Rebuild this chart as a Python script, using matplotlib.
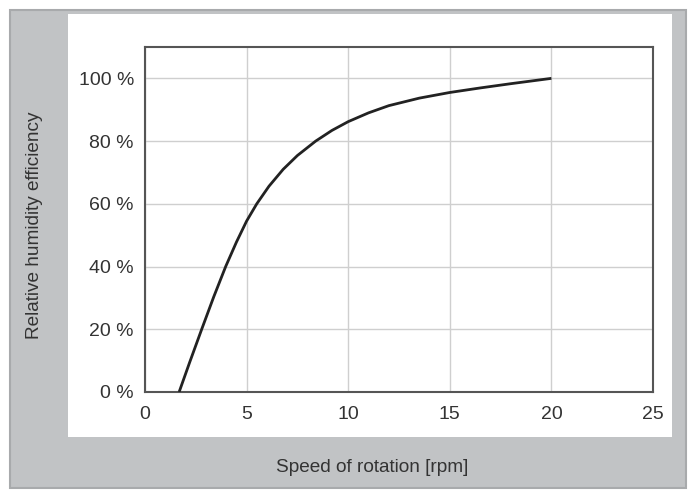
import matplotlib
matplotlib.use("Agg")
import matplotlib.pyplot as plt
from matplotlib.patches import Rectangle

# Data
speed_rpm = [1.68, 2.2, 2.79, 3.38, 3.97, 4.5, 5.0, 5.5, 6.1, 6.8, 7.5, 8.4,
             9.2, 10.0, 11.0, 12.0, 13.5, 15.0, 16.5, 18.0, 20.0]
efficiency_pct = [0, 9.5, 20, 30.3, 40, 47.8, 54.5, 60, 65.6, 71, 75.4, 80,
                  83.4, 86.2, 89, 91.3, 93.7, 95.5, 96.95, 98.3, 100]
x_ticks = [0, 5, 10, 15, 20, 25]
y_ticks = [0, 20, 40, 60, 80, 100]
y_tick_labels = ["0 %", "20 %", "40 %", "60 %", "80 %", "100 %"]

W, H = 693, 491
fig = plt.figure(figsize=(W / 100, H / 100), dpi=100)
fig.patch.set_facecolor("white")

def px_rect(x0, y0, x1, y1, **kw):
    fig.patches.append(Rectangle((x0 / W, 1 - y1 / H), (x1 - x0) / W, (y1 - y0) / H,
                                 transform=fig.transFigure, figure=fig,
                                 zorder=-10, **kw))

# outer gray frame and white panel
px_rect(10, 10, 686, 488, facecolor="#c1c3c5", edgecolor="#a8aaac", linewidth=1.5)
px_rect(68, 14, 672, 437, facecolor="white", edgecolor="none")

ax = fig.add_axes([145 / W, 1 - 392 / H, (653 - 145) / W, (392 - 47) / H])
ax.set_facecolor("none")
ax.plot(speed_rpm, efficiency_pct, color="#222222", linewidth=2.0,
        solid_capstyle="butt", solid_joinstyle="round", zorder=3)

ax.set_xlim(0, 25)
ax.set_ylim(0, 110)
ax.set_xticks(x_ticks)
ax.set_yticks(y_ticks)
ax.set_yticklabels(y_tick_labels)
ax.grid(True, color="#cfcfcf", linewidth=1.0)
ax.set_axisbelow(True)
for s in ax.spines.values():
    s.set_color("#555555")
    s.set_linewidth(1.5)
ax.tick_params(length=0, labelsize=14, labelcolor="#333333")
ax.tick_params(axis="x", pad=10)
ax.tick_params(axis="y", pad=8)
for lbl in ax.get_xticklabels() + ax.get_yticklabels():
    lbl.set_fontfamily("Liberation Sans")

fig.text(35 / W, 1 - 225 / H, "Relative humidity efficiency", rotation=90,
         ha="center", va="center", fontsize=13.7, color="#333333",
         fontfamily="Liberation Sans")
fig.text(372 / W, 1 - 467 / H, "Speed of rotation [rpm]", ha="center",
         va="center", fontsize=13.7, color="#333333", fontfamily="Liberation Sans")

fig.savefig("out.png", dpi=100, facecolor=fig.get_facecolor())
